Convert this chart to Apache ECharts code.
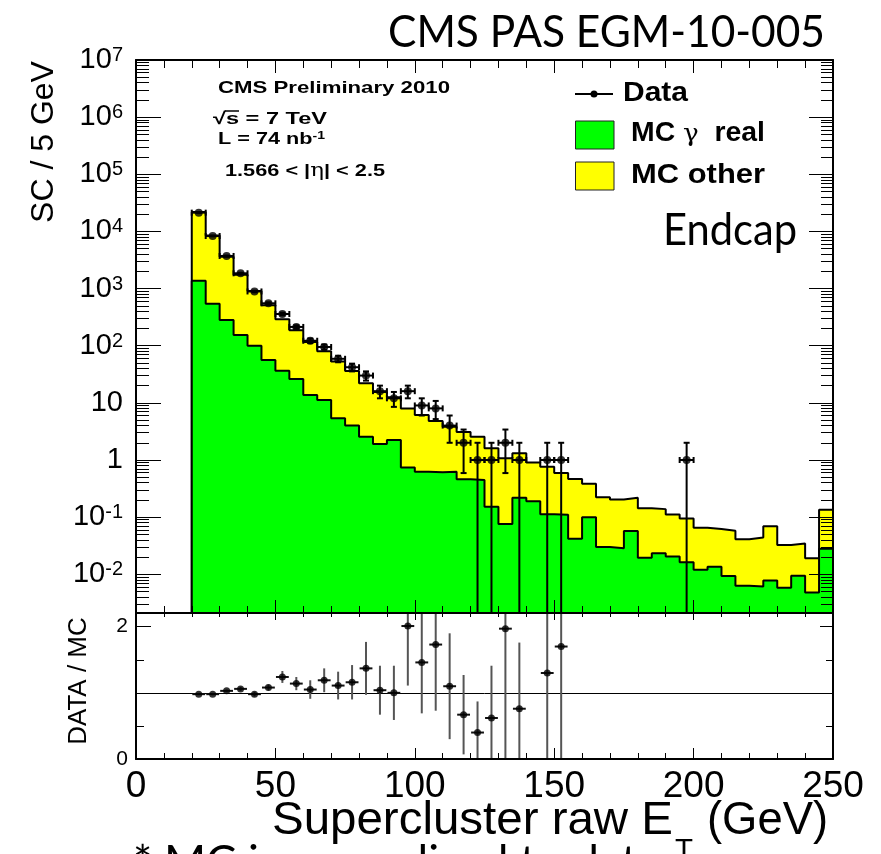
<!DOCTYPE html>
<html><head><meta charset="utf-8">
<script src="https://cdn.jsdelivr.net/npm/echarts@6/dist/echarts.min.js"></script>
<style>html,body{margin:0;padding:0;background:#fff}#c{width:881px;height:854px}</style>
</head><body><div id="c"></div>
<script>
// ---------------- data ----------------
const BIN_W = 5;
const binEdges = [20,25,30,35,40,45,50,55,60,65,70,75,80,85,90,95,100,105,110,115,120,125,130,135,140,145,150,155,160,165,170,175,180,185,190,195,200,205,210,215,220,225,230,235,240,245];
// MC total (yellow top = MC gamma real + MC other)
const mcTotal = [21800,8470,3610,1740,910,512,291,186,116,80,53,36,22,15.5,12.5,8.0,6.1,4.8,3.8,3.1,2.56,1.6,1.07,1.31,0.90,0.76,0.59,0.465,0.385,0.222,0.203,0.219,0.143,0.138,0.111,0.095,0.065,0.062,0.058,0.041,0.044,0.069,0.0325,0.0345,0.019,0.135];
// MC gamma real (green)
const mcRealGamma = [1374,543,282,154,100,56,36.5,26.2,13.7,11.2,5.4,4.0,2.56,1.9,2.24,0.74,0.625,0.61,0.625,0.46,0.447,0.152,0.076,0.219,0.19,0.112,0.11,0.042,0.099,0.030,0.0285,0.057,0.0195,0.0233,0.0204,0.0162,0.012,0.0136,0.0093,0.0063,0.0061,0.0078,0.0058,0.0094,0.0048,0.028];
// Data counts and their errors
const dataCounts = [21300,8300,3720,1850,890,552,359,213,122,95,59,42,30,16,12,16,9,8,4,2,1,1,2,1,0,1,1,0,0,0,0,0,0,0,0,1,0,0,0,0,0,0,0,0,0,0];
const dataErrors = [146,91,61,43,30,23.5,19,14.6,11,9.7,7.7,6.5,5.5,4,3.5,4,3,2.8,2,1.41,1,1,1.41,1,0,1,1,0,0,0,0,0,0,0,0,1,0,0,0,0,0,0,0,0,0,0];
// DATA / MC ratio and errors
const ratioValues = [0.98,0.98,1.03,1.06,0.98,1.08,1.24,1.14,1.05,1.19,1.11,1.16,1.37,1.04,1.00,2.01,1.46,1.73,1.10,0.67,0.40,0.62,1.97,0.76,null,1.30,1.70,null,null,null,null,null,null,null,null,null,null,null,null,null,null,null,null,null,null,null];
const ratioErrors = [0.01,0.015,0.02,0.03,0.035,0.045,0.09,0.10,0.14,0.18,0.21,0.26,0.40,0.37,0.41,0.90,0.77,1.00,0.80,0.60,0.47,0.79,2.00,1.00,null,1.30,1.70,null,null,null,null,null,null,null,null,null,null,null,null,null,null,null,null,null,null,null];
// axis ticks
const majorExponents = [-2,-1,0,1,2,3,4,5,6,7];
const minorMultipliers = [2,3,4,5,6,7,8,9];
const ratioMajorTicks = [0,2];
const ratioMinorTicks = [0.5,1,1.5];

// ---------------- helpers ----------------
const L = v => Math.log10(v);
const YMIN = -2.678, YMAX = 7;
const RMAX = 2.207;
const FONT = '"Liberation Sans", Arial, Helvetica, sans-serif';

const minorTickVals = [];
for (let n = -3; n <= 6; n++) minorMultipliers.forEach(k => { const v = n + Math.log10(k); if (v > YMIN && v < YMAX) minorTickVals.push(v); });

function histPoints(vals) {
  const pts = [[binEdges[0], YMIN]];
  binEdges.forEach((e, i) => pts.push([e, L(vals[i])]));
  pts.push([binEdges[binEdges.length - 1] + BIN_W, L(vals[vals.length - 1])]);
  return pts;
}

const dataPts = [], dataErrItems = [];
binEdges.forEach((e, i) => {
  const d = dataCounts[i]; if (!(d > 0)) return;
  const xc = e + BIN_W / 2, err = dataErrors[i];
  const lo = d - err > 0 ? L(d - err) : YMIN - 2;
  dataPts.push([xc, L(d)]);
  dataErrItems.push([xc, L(d), lo, L(d + err)]);
});
const ratioPts = [], ratioErrItems = [];
binEdges.forEach((e, i) => {
  const r = ratioValues[i]; if (r == null) return;
  const xc = e + BIN_W / 2;
  ratioPts.push([xc, r]);
  ratioErrItems.push([xc, r, ratioErrors[i]]);
});

// ---------------- axes ----------------
const blk = '#000';
function xAx(grid, pos, major, minor, label) {
  return { type:'value', gridIndex:grid, position:pos, min:0, max:250, interval:50, z:10,
    axisLine:{show:true, onZero:false, lineStyle:{color:blk, width:2}},
    axisTick:{show:true, inside:true, length:major, lineStyle:{color:blk, width:1}},
    minorTick:{show:true, splitNumber:5, length:minor, lineStyle:{color:blk, width:1}},
    axisLabel: label ? {show:true, color:blk, fontSize:37, fontFamily:FONT, margin:9} : {show:false},
    splitLine:{show:false}, minorSplitLine:{show:false} };
}
function yAx(grid, pos, min, max, ticks, len, line, label) {
  return { type:'value', gridIndex:grid, position:pos, min:min, max:max, z:10,
    axisLine:{show:line, onZero:false, lineStyle:{color:blk, width:2}},
    axisTick:{show:true, inside:true, length:len, customValues:ticks, lineStyle:{color:blk, width:1}},
    axisLabel: label || {show:false},
    splitLine:{show:false} };
}
const topLabel = { show:true, customValues: majorExponents, margin:13, color:blk,
  formatter: v => { const n = Math.round(v); if (n === 0) return '{b|1}'; if (n === 1) return '{b|10}'; return '{b|10}{s|' + n + '}'; },
  rich: { b:{fontSize:29, fontFamily:FONT, lineHeight:29, verticalAlign:'bottom', color:blk},
          s:{fontSize:20, fontFamily:FONT, lineHeight:20, padding:[0,0,14,0], verticalAlign:'top', color:blk} } };
const ratioLabel = { show:true, customValues: ratioMajorTicks, margin:8, color:blk, fontSize:21, fontFamily:FONT };

// ---------------- custom renderers ----------------
function dataErrItem(params, api) {
  const x = api.value(0), y = api.value(1), lo = api.value(2), hi = api.value(3);
  const a = api.coord([x - BIN_W/2, y]), b = api.coord([x + BIN_W/2, y]);
  const l = api.coord([x, lo]), h = api.coord([x, hi]);
  const st = {stroke:'#000', lineWidth:2}, c = 3;
  return { type:'group', children:[
    {type:'line', shape:{x1:a[0], y1:a[1], x2:b[0], y2:b[1]}, style:st},
    {type:'line', shape:{x1:a[0], y1:a[1]-c, x2:a[0], y2:a[1]+c}, style:st},
    {type:'line', shape:{x1:b[0], y1:b[1]-c, x2:b[0], y2:b[1]+c}, style:st},
    {type:'line', shape:{x1:l[0], y1:l[1], x2:h[0], y2:h[1]}, style:st},
    {type:'line', shape:{x1:h[0]-c, y1:h[1], x2:h[0]+c, y2:h[1]}, style:st},
    {type:'line', shape:{x1:l[0]-c, y1:l[1], x2:l[0]+c, y2:l[1]}, style:st}
  ]};
}
function ratioErrItem(params, api) {
  const x = api.value(0), y = api.value(1), e = api.value(2);
  const a = api.coord([x - 2.3, y]), b = api.coord([x + 2.3, y]);
  const l = api.coord([x, y - e]), h = api.coord([x, y + e]);
  return { type:'group', children:[
    {type:'line', shape:{x1:l[0], y1:l[1], x2:h[0], y2:h[1]}, style:{stroke:'#555', lineWidth:2}},
    {type:'line', shape:{x1:a[0], y1:a[1], x2:b[0], y2:b[1]}, style:{stroke:'#111', lineWidth:2}}
  ]};
}

// ---------------- text graphics ----------------
const mctx = document.createElement('canvas').getContext('2d');
function tw(p) { mctx.font = (p.weight||'normal') + ' ' + p.size + 'px ' + p.family; return mctx.measureText(p.t).width; }
function fitted(parts, x0, x1, yc) {
  let w = 0, text = ''; const rich = {};
  parts.forEach((p, i) => { w += tw(p); const k = 'p' + i;
    rich[k] = Object.assign({fontSize:p.size, fontFamily:p.family, fontWeight:p.weight||'normal', fill:'#000', color:'#000'}, p.st||{});
    text += '{' + k + '|' + p.t + '}'; });
  const sx = (x1 - x0) / w;
  return { el: { type:'text', x:x0, y:yc, scaleX:sx, silent:true, z:20,
    style:{ text:text, rich:rich, fill:'#000', align:'left', verticalAlign:'middle', textAlign:'left', textVerticalAlign:'middle' } },
    sx: sx, widths: parts.map(tw) };
}
const G = [];
const LATO = 'Lato';
// title & labels
G.push(fitted([{t:'CMS PAS EGM-10-005', size:44, family:LATO}], 388, 825, 33).el);
G.push(fitted([{t:'Endcap', size:44, family:LATO}], 663, 797, 231).el);
G.push(fitted([{t:'CMS Preliminary 2010', size:17, family:FONT, weight:'bold'}], 218, 450, 88).el);
const sq = fitted([{t:'\u221A', size:17, family:FONT, weight:'bold'}, {t:'s = 7 TeV', size:17, family:FONT, weight:'bold'}], 213, 327, 119);
G.push(sq.el);
(function(){ const x0 = 213 + sq.widths[0]*sq.sx - 1; const x1 = x0 + tw({t:'s', size:17, family:FONT, weight:'bold'})*sq.sx + 1;
  G.push({type:'line', silent:true, z:20, shape:{x1:x0, y1:111, x2:x1, y2:111}, style:{stroke:'#000', lineWidth:1.5}}); })();
G.push(fitted([{t:'L = 74 nb', size:17, family:FONT, weight:'bold', st:{lineHeight:17, verticalAlign:'bottom'}},
               {t:'-1', size:11, family:FONT, weight:'bold', st:{lineHeight:11, padding:[0,0,8,0], verticalAlign:'top'}}], 218, 325, 139).el);
G.push(fitted([{t:'1.566 < |', size:17, family:FONT, weight:'bold'}, {t:'\u03B7', size:18, family:'"DejaVu Serif", serif'},
               {t:'| < 2.5', size:17, family:FONT, weight:'bold'}], 225, 385, 171.5).el);
// legend
G.push({type:'line', silent:true, z:20, shape:{x1:575, y1:94, x2:613, y2:94}, style:{stroke:'#000', lineWidth:2}});
G.push({type:'circle', silent:true, z:20, shape:{cx:594, cy:94, r:3.5}, style:{fill:'#000'}});
G.push({type:'rect', silent:true, z:20, shape:{x:575.5, y:121, width:38.5, height:28}, style:{fill:'#00ff00', stroke:'#222', lineWidth:1}});
G.push({type:'rect', silent:true, z:20, shape:{x:575.5, y:162, width:38.5, height:28}, style:{fill:'#ffff00', stroke:'#222', lineWidth:1}});
G.push(fitted([{t:'Data', size:27, family:FONT, weight:'bold'}], 623, 688, 93.5).el);
G.push(fitted([{t:'MC ', size:27, family:FONT, weight:'bold'}, {t:'\u03B3', size:25, family:'"DejaVu Serif", serif'},
               {t:'  real', size:27, family:FONT, weight:'bold'}], 631, 765, 134).el);
G.push(fitted([{t:'MC other', size:27, family:FONT, weight:'bold'}], 631, 765, 175.5).el);
// axis titles
G.push({type:'text', x:44, y:142, rotation:Math.PI/2, silent:true, z:20,
  style:{text:'SC / 5 GeV', fontSize:32, fontFamily:FONT, fill:'#000', align:'center', verticalAlign:'middle', textAlign:'center', textVerticalAlign:'middle'}});
G.push({type:'text', x:78.5, y:681, rotation:Math.PI/2, silent:true, z:20,
  style:{text:'DATA / MC', fontSize:26, fontFamily:FONT, fill:'#000', align:'center', verticalAlign:'middle', textAlign:'center', textVerticalAlign:'middle'}});
G.push(fitted([{t:'Supercluster raw E', size:46, family:FONT}], 272, 673, 821.5).el);
G.push(fitted([{t:'T', size:30, family:FONT}], 675, 693, 851).el);
G.push(fitted([{t:'(GeV)', size:46, family:FONT}], 707, 828, 821.5).el);
G.push(fitted([{t:'* MC is normalized to data', size:44, family:LATO}], 133, 660, 863).el);

// ---------------- chart ----------------
const chart = echarts.init(document.getElementById('c'), null, {renderer:'canvas', width:881, height:854});
chart.setOption({
  animation:false,
  backgroundColor:'#fff',
  textStyle:{fontFamily:FONT},
  grid:[
    {left:136, right:48, top:60, height:553, containLabel:false, outerBoundsMode:'none'},
    {left:136, right:48, top:613, height:146, containLabel:false, outerBoundsMode:'none'}
  ],
  xAxis:[
    xAx(0, 'bottom', 13, 7, false),
    xAx(0, 'top', 13, 8, false),
    xAx(1, 'bottom', 11, 6, true),
    xAx(1, 'top', 7, 4, false)
  ],
  yAxis:[
    yAx(0, 'left', YMIN, YMAX, majorExponents, 25, true, topLabel),
    yAx(0, 'left', YMIN, YMAX, minorTickVals, 13, false),
    yAx(0, 'right', YMIN, YMAX, majorExponents, 24, true),
    yAx(0, 'right', YMIN, YMAX, minorTickVals, 12, false),
    yAx(1, 'left', 0, RMAX, ratioMajorTicks, 15, true, ratioLabel),
    yAx(1, 'left', 0, RMAX, ratioMinorTicks, 8, false),
    yAx(1, 'right', 0, RMAX, ratioMajorTicks, 13, true),
    yAx(1, 'right', 0, RMAX, ratioMinorTicks, 7, false)
  ],
  series:[
    {name:'MC other', type:'line', xAxisIndex:0, yAxisIndex:0, data:histPoints(mcTotal), step:'end', symbol:'none',
     lineStyle:{color:'#000', width:2}, areaStyle:{color:'#ffff00', opacity:1, origin:'start'}, z:2, clip:true},
    {name:'MC γ real', type:'line', xAxisIndex:0, yAxisIndex:0, data:histPoints(mcRealGamma), step:'end', symbol:'none',
     lineStyle:{color:'#000', width:2}, areaStyle:{color:'#00ff00', opacity:1, origin:'start'}, z:3, clip:true},
    {name:'Data err', type:'custom', xAxisIndex:0, yAxisIndex:0, data:dataErrItems, renderItem:dataErrItem,
     encode:{x:0, y:1}, clip:true, z:5, silent:true},
    {name:'Data', type:'scatter', xAxisIndex:0, yAxisIndex:0, data:dataPts, symbol:'circle', symbolSize:8,
     itemStyle:{color:'#000'}, z:6, clip:true},
    {name:'Ratio err', type:'custom', xAxisIndex:2, yAxisIndex:4, data:ratioErrItems, renderItem:ratioErrItem,
     encode:{x:0, y:1}, clip:true, z:5, silent:true},
    {name:'Ratio', type:'scatter', xAxisIndex:2, yAxisIndex:4, data:ratioPts, symbol:'circle', symbolSize:7,
     itemStyle:{color:'#000'}, z:6, clip:true,
     markLine:{silent:true, symbol:'none', label:{show:false}, lineStyle:{color:'#000', width:1, type:'solid'}, data:[{yAxis:1}]}}
  ],
  graphic: G
});
</script>
</body></html>
